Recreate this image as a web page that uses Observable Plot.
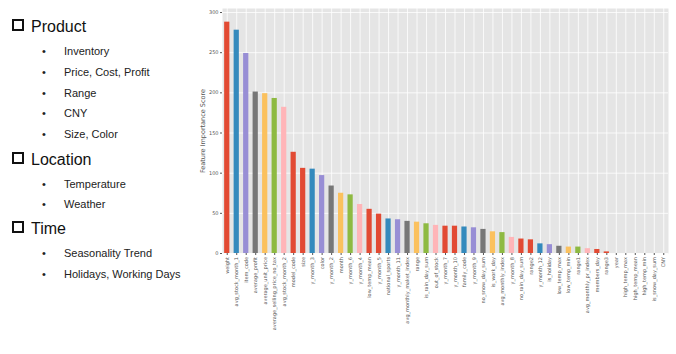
<!DOCTYPE html>
<html>
<head>
<meta charset="utf-8">
<script src="https://cdn.jsdelivr.net/npm/d3@7"></script>
<script src="https://cdn.jsdelivr.net/npm/@observablehq/plot@0.6"></script>
<style>
  html, body { margin: 0; padding: 0; background: #fff; }
  body { width: 676px; height: 354px; position: relative; overflow: hidden; font-family: "Liberation Sans", Arial, sans-serif; }
  .head { position: absolute; left: 12px; font-size: 16px; line-height: 20px; color: #111; white-space: nowrap; }
  .box { display: inline-block; width: 8px; height: 8px; border: 2px solid #111; margin-right: 7px; vertical-align: 1px; }
  .item { position: absolute; left: 42px; font-size: 11px; line-height: 14px; color: #222; white-space: nowrap; }
  .item .dot { display: inline-block; width: 22px; }
  #chart { position: absolute; left: 195px; top: 0; }
</style>
</head>
<body>
<div id="list"></div>
<div id="chart"></div>
<script>
const features = ["weight","avg_stock_month_1","item_code","average_profit","average_unit_price","average_selling_price_no_tax","avg_stock_month_2","model_code","size","y_month_3","color","y_month_2","month","y_month_6","y_month_4","low_temp_mean","y_month_5","national_sports","y_month_11","avg_monthly_maket_index","range","is_rain_day_sum","out_of_stock","y_month_7","y_month_10","family_code","y_month_9","no_snow_day_sum","is_work_day","avg_monthly_index","y_month_8","no_rain_day_sum","range2","y_month_12","is_holiday","low_temp_max","low_temp_min","range1","avg_monthly_pr_index","members_day","range3","year","high_temp_max","high_temp_mean","high_temp_min","is_snow_day_sum","CNY"];
const scores = [288,278,249,201,199,193,182,126,106,105,97,84,75,73,61,55,49,43,42,40,39,37,35,34,34,33,32,30,27,26,20,18,17,12,11,9,8,8,6,5,2,0,0,0,0,0,0];
const barColors = ["#E24A33","#348ABD","#988ED5","#777777","#FBC15E","#8EBA42","#FFB5B8","#E24A33"];
const yTicks = [0,50,100,150,200,250,300];

const groups = ["Product","Location","Time"];
const groupItems = [
  ["Inventory","Price, Cost, Profit","Range","CNY","Size, Color"],
  ["Temperature","Weather"],
  ["Seasonality Trend","Holidays, Working Days"]
];
const headTops = [17, 150, 219];
const itemTops = [[44, 65, 86, 106, 127],[177, 197],[246, 267]];

const list = document.getElementById("list");
groups.forEach((g, gi) => {
  const h = document.createElement("div");
  h.className = "head";
  h.style.top = headTops[gi] + "px";
  h.innerHTML = '<span class="box"></span>';
  h.appendChild(document.createTextNode(g));
  list.appendChild(h);
  groupItems[gi].forEach((t, ii) => {
    const d = document.createElement("div");
    d.className = "item";
    d.style.top = itemTops[gi][ii] + "px";
    d.innerHTML = '<span class="dot">•</span>';
    d.appendChild(document.createTextNode(t));
    list.appendChild(d);
  });
});

const data = features.map((f, i) => ({feature: f, score: scores[i], color: barColors[i % barColors.length]}));

const chart = Plot.plot({
  width: 481,
  height: 354,
  marginLeft: 27,
  marginRight: 8,
  marginTop: 8,
  marginBottom: 101,
  style: {fontFamily: "'DejaVu Sans', sans-serif", fontSize: "5px", color: "#555", background: "transparent"},
  x: {domain: features, paddingInner: 0.45, paddingOuter: 0.225, round: false, label: null},
  y: {domain: [0, 305], label: null},
  marks: [
    Plot.frame({fill: "#E5E5E5", stroke: null}),
    Plot.gridX({stroke: "white", strokeOpacity: 1, strokeWidth: 0.8}),
    Plot.gridY(yTicks, {stroke: "white", strokeOpacity: 1, strokeWidth: 0.8}),
    Plot.barY(data, {x: "feature", y: "score", fill: "color"}),
    Plot.axisX({tickRotate: -90, tickSize: 2, tickPadding: 1.5, stroke: "#555", fontSize: 5, fill: "#555", label: null}),
    Plot.axisY(yTicks, {tickSize: 2, tickPadding: 2, stroke: "#555", fontSize: 5, fill: "#555", label: "Feature Importance Score", labelAnchor: "center", labelArrow: "none", labelOffset: 22})
  ]
});
chart.querySelectorAll('[aria-label="y-axis label"] text').forEach(t => { t.style.fontSize = "6.5px"; t.setAttribute("fill", "#555"); });
document.getElementById("chart").appendChild(chart);
</script>
</body>
</html>
